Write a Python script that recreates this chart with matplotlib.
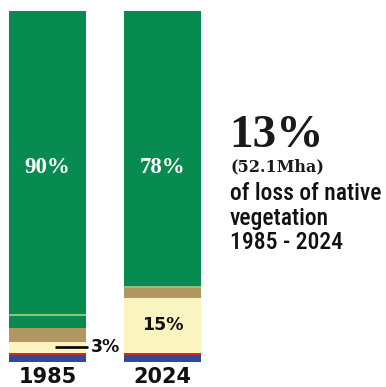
import numpy as np
import matplotlib.pyplot as plt
from matplotlib import font_manager

# land cover share (%), stacked from the bottom up
years = ['1985', '2024']
water = [1.9, 1.9]
urban = [0.7, 0.7]
farming = [3.0, 15.6]
mosaic = [4.0, 2.7]
other_native = [3.4, 0.0]
grass = [0.6, 0.7]
forest = [86.4, 78.4]
native_labels = ['90%', '78%']

layers = [water, urban, farming, mosaic, other_native, grass, forest]
colors = ['#2f4a9a', '#d8281e', '#faf4c1', '#b09862', '#078b50', '#8fc27a', '#078b50']

names = {f.name for f in font_manager.fontManager.ttflist}
sans = 'Roboto Condensed' if 'Roboto Condensed' in names else 'Roboto'

fig = plt.figure(figsize=(3.86, 3.87), dpi=100)
ax = fig.add_axes([0, 25.3 / 387, 1, 350.7 / 387])
ax.set_xlim(-47.5 / 115, (386 - 47.5) / 115)
ax.set_ylim(0, 100)
ax.axis('off')

x = np.arange(len(years))
bottom = np.zeros(len(years))
for vals, c in zip(layers, colors):
    ax.bar(x, vals, bottom=bottom, width=77 / 115, color=c, linewidth=0)
    bottom += vals

# labels on the bars
for i, lab in enumerate(native_labels):
    ax.text(x[i], 55.5, lab, color='white', ha='center', va='center',
            family='Liberation Serif', weight='bold', fontsize=16.5)

farm_mid = np.array(water) + np.array(urban) + np.array(farming) / 2
ax.text(x[1], farm_mid[1], '15%', ha='center', va='center',
        family='DejaVu Sans', weight='bold', fontsize=12.5, color='#111111')
ax.plot([0.065, 0.352], [farm_mid[0], farm_mid[0]], color='black', lw=1.9,
        solid_capstyle='butt')
ax.text(0.38, farm_mid[0], '3%', ha='left', va='center',
        family='DejaVu Sans', weight='bold', fontsize=12.5, color='#111111')

for i, y in enumerate(years):
    fig.text((47.5 + 115 * i) / 386, 1 - 377 / 387, y, ha='center', va='center',
             family='DejaVu Sans', weight='bold', fontsize=15, color='#111111')

# headline on the right
fig.text(229 / 386, 1 - 147 / 387, '13%', ha='left', va='baseline',
         family='Liberation Serif', weight='bold', fontsize=34, color='#1a1a1a')
fig.text(230 / 386, 1 - 167 / 387, '(52.1Mha)', ha='left', va='center',
         family='DejaVu Serif', weight='bold', fontsize=11.5, color='#1a1a1a')
for k, line in enumerate(['of loss of native', 'vegetation', '1985 - 2024']):
    fig.text(230 / 386, 1 - (200 + 24.5 * k) / 387, line, ha='left', va='baseline',
             family=sans, weight='medium', fontsize=17, color='#111111')

fig.savefig('out.png', dpi=100)
